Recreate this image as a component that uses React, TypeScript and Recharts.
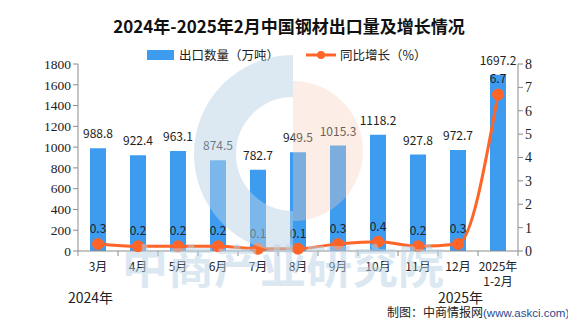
import React from "react";
import { ComposedChart, Bar, Line, XAxis, YAxis, LabelList } from "recharts";

const months = ["3月", "4月", "5月", "6月", "7月", "8月", "9月", "10月", "11月", "12月", "2025年\n1-2月"];
const exportVolume = [988.8, 922.4, 963.1, 874.5, 782.7, 949.5, 1015.3, 1118.2, 927.8, 972.7, 1697.2];
const yoyGrowth = [0.3, 0.2, 0.2, 0.2, 0.1, 0.1, 0.3, 0.4, 0.2, 0.3, 6.7];
const leftTicks = [0, 200, 400, 600, 800, 1000, 1200, 1400, 1600, 1800];
const rightTicks = [0, 1, 2, 3, 4, 5, 6, 7, 8];

const BAR = "#3d9bf0";
const LINE = "#ff6428";
const AXIS = "#8c8c8c";
const CJK = "'Noto Sans CJK SC', sans-serif";

const data = months.map((m, i) => ({ m, vol: exportVolume[i], yoy: yoyGrowth[i] }));

function MonthTick(props: any) {
  const { x, y, payload, index } = props;
  const half = payload.offset || 20;
  const lines = String(payload.value).split("\n");
  return (
    <g>
      <line x1={x - half} y1={y - 8} x2={x - half} y2={y - 3} stroke={AXIS} />
      {index === months.length - 1 && <line x1={x + half} y1={y - 8} x2={x + half} y2={y - 3} stroke={AXIS} />}
      {lines.map((t, k) => (
        <text key={k} x={x} y={y + 12 + k * 15} textAnchor="middle" fontSize={12} fill="#222" fontFamily={CJK}>
          {t}
        </text>
      ))}
    </g>
  );
}

export default function App() {
  return (
    <div
      style={{
        position: "relative",
        width: 576,
        height: 327,
        margin: -8,
        boxSizing: "border-box",
        border: "1px solid #999",
        background: "#fff",
        fontFamily: CJK,
        overflow: "hidden",
      }}
    >
      <div style={{ position: "absolute", top: 12, left: 0, width: 576, textAlign: "center", fontSize: 17, fontWeight: 700, color: "#111" }}>
        2024年-2025年2月中国钢材出口量及增长情况
      </div>
      <div style={{ position: "absolute", top: 44, left: 146, display: "flex", alignItems: "center", fontSize: 12.5, color: "#222" }}>
        <span style={{ display: "inline-block", width: 27, height: 10, background: BAR, marginRight: 5 }} />
        <span>出口数量（万吨）</span>
        <svg width={30} height={12} style={{ marginLeft: 27, marginRight: 4 }}>
          <line x1={0} y1={6} x2={30} y2={6} stroke={LINE} strokeWidth={3} />
          <circle cx={15} cy={6} r={4} fill={LINE} />
        </svg>
        <span>同比增长（%）</span>
      </div>
      <div style={{ position: "absolute", top: 0, left: 0 }}>
        <ComposedChart width={576} height={327} data={data} margin={{ top: 63, right: 19, bottom: 47, left: 37 }}>
          <XAxis dataKey="m" interval={0} tick={<MonthTick />} tickLine={false} axisLine={{ stroke: AXIS }} height={30} />
          <YAxis
            yAxisId="l"
            domain={[0, 1800]}
            ticks={leftTicks}
            interval={0}
            width={40}
            axisLine={{ stroke: AXIS }}
            tickLine={{ stroke: AXIS }}
            tickSize={5}
            tick={{ fontSize: 13.5, fill: "#222", fontFamily: "'Liberation Serif', serif" }}
          />
          <YAxis
            yAxisId="r"
            orientation="right"
            domain={[0, 8]}
            ticks={rightTicks}
            interval={0}
            width={40}
            axisLine={{ stroke: AXIS }}
            tickLine={{ stroke: AXIS }}
            tickSize={5}
            tick={{ fontSize: 14, fill: "#222", fontFamily: "'Liberation Serif', serif" }}
          />
          <Bar yAxisId="l" dataKey="vol" fill={BAR} barSize={16} isAnimationActive={false}>
            <LabelList dataKey="vol" position="top" offset={10} fontSize={12} fill="#222" formatter={(v: any) => Number(v).toFixed(1)} />
          </Bar>
          <Line
            yAxisId="r"
            dataKey="yoy"
            type="monotone"
            stroke={LINE}
            strokeWidth={3}
            dot={{ r: 4.5, fill: LINE, stroke: LINE }}
            isAnimationActive={false}
          >
            <LabelList dataKey="yoy" position="top" offset={11} fontSize={12} fill="#222" formatter={(v: any) => Number(v).toFixed(1)} />
          </Line>
        </ComposedChart>
      </div>
      <div style={{ position: "absolute", top: 286, left: 67, fontSize: 14, color: "#222" }}>2024年</div>
      <div style={{ position: "absolute", top: 286, left: 437, fontSize: 14, color: "#222" }}>2025年</div>
      <div style={{ position: "absolute", top: 302, left: 386, fontSize: 12, color: "#222", whiteSpace: "nowrap" }}>
        制图：中商情报网<span style={{ color: "#2b4a8f", fontFamily: "'Liberation Sans', sans-serif", fontSize: 11.5 }}>(www.askci.com)</span>
      </div>
      <svg width={576} height={327} style={{ position: "absolute", top: 0, left: 0, pointerEvents: "none" }}>
        <path d="M 292 75 A 78 78 0 0 0 292 231" fill="none" stroke="#b9d3e6" strokeWidth={42} opacity={0.5} />
        <path d="M 292 80 A 70 70 0 0 1 292 220 Z" fill="#f6cdb8" opacity={0.35} />
        <text x={282} y={282} textAnchor="middle" fontSize={46} fontWeight={700} fill="#b9d3e6" opacity={0.5} fontFamily={CJK}>
          中商产业研究院
        </text>
      </svg>
    </div>
  );
}
